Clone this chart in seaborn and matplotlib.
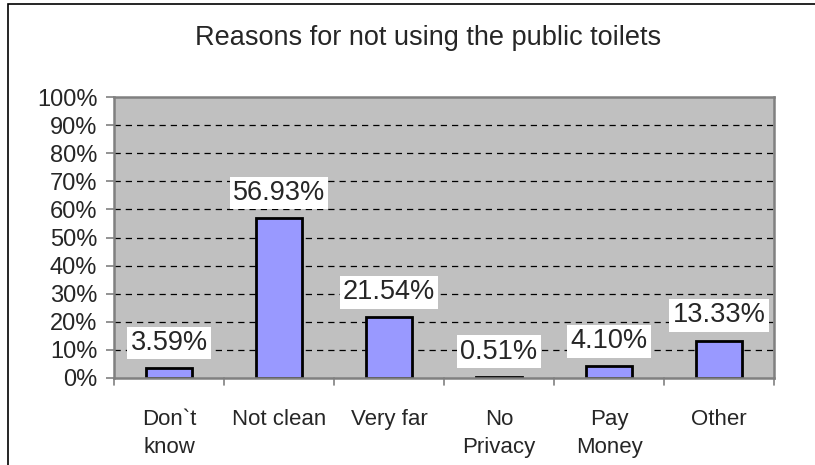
import matplotlib
matplotlib.use("Agg")
import matplotlib.pyplot as plt
import seaborn as sns
import pandas as pd
from matplotlib.patches import Rectangle

categories = ["Don`t\nknow", "Not clean", "Very far", "No\nPrivacy", "Pay\nMoney", "Other"]
values = [3.59, 56.93, 21.54, 0.51, 4.10, 13.33]
yticks = [0, 10, 20, 30, 40, 50, 60, 70, 80, 90, 100]
title = "Reasons for not using the public toilets"

sns.set_theme(style="white")
plt.rcParams['font.family'] = ['Liberation Sans', 'DejaVu Sans']

fig = plt.figure(figsize=(8.15, 4.65), dpi=100)
ax = fig.add_axes([114/815, 1-378/465, (774-114)/815, (378-97)/465])

df = pd.DataFrame({"cat": categories, "val": values})
sns.barplot(data=df, x="cat", y="val", ax=ax, color="#9999ff", saturation=1,
            width=0.41, edgecolor="black", linewidth=2)

ax.set_facecolor("#c0c0c0")
ax.set_ylim(0, 100)
ax.set_xlim(-0.5, len(categories) - 0.5)
ax.set_yticks(yticks)
ax.set_yticklabels([f"{t}%" for t in yticks], fontsize=17)
ax.set_xticks(range(len(categories)))
ax.set_xticklabels(categories, fontsize=16, linespacing=1.45)
ax.set_xlabel("")
ax.set_ylabel("")

for y in yticks[1:-1]:
    ax.axhline(y, color="black", linestyle=(0, (5, 4)), linewidth=0.9, zorder=0.5)

for s in ["top", "right", "left", "bottom"]:
    ax.spines[s].set_color("#808080")
    ax.spines[s].set_linewidth(1.8)

ax.tick_params(axis="x", length=0, pad=22)
ax.tick_params(axis="y", length=6, width=1.2, color="#808080", direction="out", left=True, pad=6)
for b in [i - 0.5 for i in range(len(categories) + 1)]:
    ax.plot([b, b], [0, -2.4], color="#808080", lw=1.2, clip_on=False, zorder=3)

for i, v in enumerate(values):
    ax.annotate(f"{v:.2f}%", (i, v), xytext=(0, 13), textcoords="offset points",
                ha="center", va="baseline", fontsize=19.5,
                bbox=dict(boxstyle="square,pad=0.12", fc="white", ec="none"))

fig.text(428/815, 1 - 45/465, title, ha="center", va="baseline", fontsize=19.5)

fig.patches.append(Rectangle((8/815, -0.05), 1.0, 1.05 - 4/465, transform=fig.transFigure,
                             fill=False, ec="black", lw=1.2))

fig.savefig("out.png", dpi=100)
